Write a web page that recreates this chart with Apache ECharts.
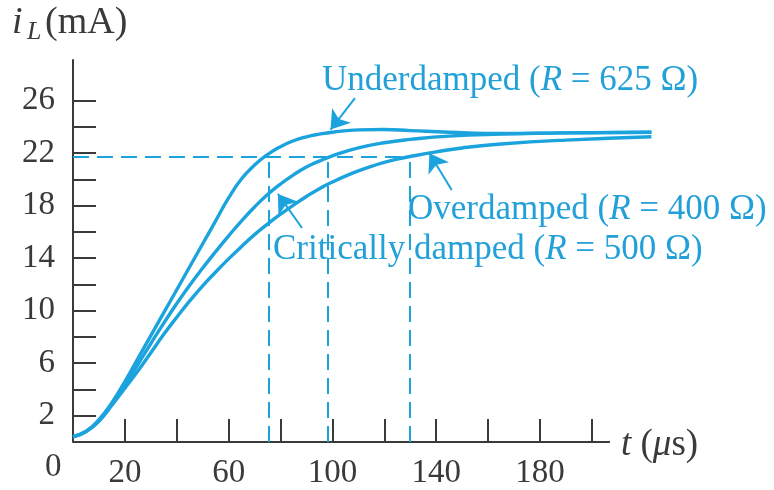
<!DOCTYPE html>
<html><head><meta charset="utf-8">
<script src="https://cdn.jsdelivr.net/npm/echarts@6/dist/echarts.min.js"></script>
<style>html,body{margin:0;padding:0;background:#fff}#c{width:774px;height:490px}</style>
</head><body><div id="c"></div>
<script>
// ---- data (t in µs, i_L in mA) ----
const tUnder = [0, 5, 10, 15, 20, 25, 30, 35, 40, 45, 50, 55, 60, 65, 70, 75, 80, 85, 90, 95, 100, 110, 120, 130, 145, 165, 190, 223];
const iUnder = [0.4, 0.8, 1.7, 3.0, 4.6, 6.35, 8.1, 9.85, 11.6, 13.35, 15.1, 16.85, 18.6, 20.05, 21.1, 21.9, 22.5, 22.95, 23.25, 23.45, 23.6, 23.78, 23.8, 23.72, 23.6, 23.5, 23.55, 23.6];
const tCrit = [0, 5, 10, 15, 20, 25, 30, 35, 40, 45, 50, 55, 60, 65, 70, 75, 80, 85, 90, 95, 100, 110, 120, 130, 145, 165, 190, 223];
const iCrit = [0.4, 0.8, 1.6, 2.85, 4.3, 5.9, 7.5, 9.05, 10.55, 11.95, 13.25, 14.5, 15.7, 16.85, 17.9, 18.85, 19.65, 20.35, 20.95, 21.4, 21.8, 22.4, 22.8, 23.05, 23.3, 23.45, 23.55, 23.6];
const tOver = [0, 5, 10, 15, 20, 25, 30, 35, 40, 45, 50, 55, 60, 65, 70, 75, 80, 85, 90, 95, 100, 105, 110, 115, 120, 125, 130, 140, 150, 165, 190, 223];
const iOver = [0.4, 0.8, 1.6, 2.8, 4.1, 5.4, 6.8, 8.2, 9.5, 10.75, 11.9, 12.95, 13.95, 14.9, 15.8, 16.6, 17.35, 18.05, 18.7, 19.3, 19.8, 20.25, 20.65, 21.0, 21.3, 21.55, 21.75, 22.1, 22.4, 22.7, 23.0, 23.25];

const level90 = 21.7;                   // dashed horizontal level (mA)
const crossTimes = [75.3, 98.2, 129.7]; // dashed vertical times (µs)
const axisEndT = 207;                   // where the drawn t axis stops

const xTickValues = [20, 40, 60, 80, 100, 120, 140, 160, 180, 200];
const xLabelValues = [20, 60, 100, 140, 180];
const yTickValues = [2, 4, 6, 8, 10, 12, 14, 16, 18, 20, 22, 24, 26];
const yLabelValues = [2, 6, 10, 14, 18, 22, 26];

// arrows: [tail t, tail i, head t, head i]
const arrowUnder = [108.7, 26.2, 99.3, 23.8];
const arrowCrit = [88.3, 16.3, 79.0, 18.9];
const arrowOver = [146, 19.2, 137.4, 22.0];

const BLUE = '#1ba3dd';
const TXT_BLUE = '#22a0d8';
const AX = '#3a3a3a';
const SERIF = '"Liberation Serif", "DejaVu Serif", serif';

const zip = (a, b) => a.map((v, k) => [v, b[k]]);
const seg = (a, b, c, d) => [{coord: [a, b]}, {coord: [c, d]}];

const chart = echarts.init(document.getElementById('c'), null, {renderer: 'canvas'});
const curveStyle = {color: BLUE, width: 3.4};
const dashStyle = {color: BLUE, width: 2, type: [16, 8]};
const arrowStyle = {color: BLUE, width: 2, type: 'solid'};
const richI = size => ({i: {fontStyle: 'italic', fontSize: size, fontFamily: SERIF, color: TXT_BLUE}});

chart.setOption({
  animation: false,
  grid: {left: 73, right: 120, top: 60, bottom: 47.5},
  xAxis: {
    type: 'value', min: 0, max: 224,
    splitLine: {show: false},
    axisLine: {show: false},
    axisTick: {show: true, inside: true, length: 23, customValues: xTickValues, lineStyle: {color: AX, width: 2}},
    axisLabel: {show: true, customValues: xLabelValues, margin: 15, color: AX, fontSize: 33, fontFamily: SERIF}
  },
  yAxis: {
    type: 'value', min: 0, max: 29.1,
    splitLine: {show: false},
    axisLine: {show: true, lineStyle: {color: AX, width: 2}},
    axisTick: {show: true, inside: true, length: 23, customValues: yTickValues, lineStyle: {color: AX, width: 2}},
    axisLabel: {show: true, customValues: yLabelValues, margin: 18, color: AX, fontSize: 33, fontFamily: SERIF}
  },
  series: [
    {type: 'line', name: 'Underdamped', data: zip(tUnder, iUnder), smooth: 0.5, symbol: 'none', lineStyle: curveStyle, z: 5,
      markLine: {
        silent: true, symbol: ['none', 'arrow'], symbolSize: 18, label: {show: false},
        lineStyle: arrowStyle, itemStyle: {color: BLUE},
        data: [seg(...arrowUnder), seg(...arrowCrit), seg(...arrowOver)]
      }
    },
    {type: 'line', name: 'Critically damped', data: zip(tCrit, iCrit), smooth: 0.5, symbol: 'none', lineStyle: curveStyle, z: 5,
      markLine: {
        silent: true, symbol: ['none', 'none'], label: {show: false},
        lineStyle: {color: AX, width: 2, type: 'solid'},
        data: [seg(0, 0, axisEndT, 0)]
      }
    },
    {type: 'line', name: 'Overdamped', data: zip(tOver, iOver), smooth: 0.5, symbol: 'none', lineStyle: curveStyle, z: 5,
      markLine: {
        silent: true, symbol: ['none', 'none'], label: {show: false},
        lineStyle: dashStyle,
        data: [seg(0, level90, crossTimes[2], level90)]
          .concat(crossTimes.map(t => seg(t, 0, t, level90)))
      }
    }
  ],
  graphic: [
    {type: 'text', left: 12, top: 4, style: {text: 'i', font: 'italic 38px ' + SERIF, fill: AX}},
    {type: 'text', left: 27, top: 19, style: {text: 'L', font: 'italic 26px ' + SERIF, fill: AX}},
    {type: 'text', left: 45, top: 4, style: {text: '(mA)', font: '38px ' + SERIF, fill: AX}},
    {type: 'text', left: 45, top: 451, style: {text: '0', font: '33px ' + SERIF, fill: AX}},
    {type: 'text', left: 621, top: 427, style: {
      text: '{i|t} ({i|μ}s)', font: '37px ' + SERIF, fill: AX,
      rich: {i: {fontStyle: 'italic', fontSize: 37, fontFamily: SERIF, color: AX}}
    }},
    {type: 'text', left: 322, top: 63, style: {
      text: 'Underdamped ({i|R} = 625 Ω)', font: '35px ' + SERIF, fill: TXT_BLUE, rich: richI(35)
    }},
    {type: 'text', left: 408, top: 192, style: {
      text: 'Overdamped ({i|R} = 400 Ω)', font: '35px ' + SERIF, fill: TXT_BLUE, rich: richI(35)
    }},
    {type: 'text', left: 273, top: 232, style: {
      text: 'Critically damped ({i|R} = 500 Ω)', font: '35px ' + SERIF, fill: TXT_BLUE, rich: richI(35)
    }}
  ]
});
</script></body></html>
